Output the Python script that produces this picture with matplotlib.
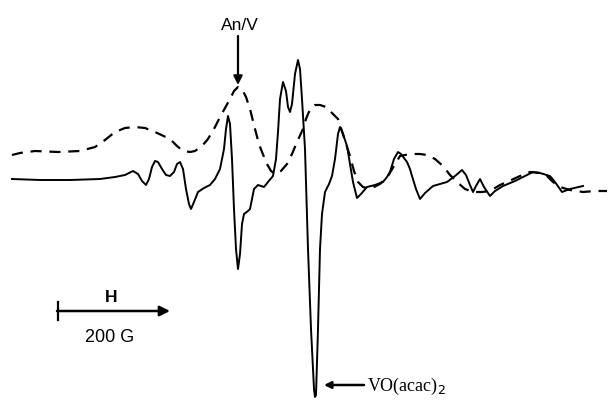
import matplotlib
matplotlib.use('Agg')
import matplotlib.pyplot as plt

# EPR spectra (field position, signal), image-pixel units
solid_x = [12, 40, 70, 100, 115, 125, 133, 138, 142, 146, 149, 152, 155, 158, 162,
           166, 170, 174, 177, 180, 183, 186, 189, 191, 194, 198, 204, 210, 215,
           220, 224, 226, 228, 230, 232, 234, 236, 238, 240, 242, 244, 248, 250,
           252, 254, 258, 264, 268, 273, 276, 278, 280, 283, 286, 288, 290, 292,
           295, 298, 300, 302, 305, 308, 311, 314, 315, 316, 318, 320, 322, 325,
           329, 332, 335, 338, 340, 343, 347, 350, 353, 357, 361, 367, 375, 383,
           387, 390, 394, 398, 401, 407, 410, 412, 416, 420, 425, 433, 440, 447,
           455, 462, 466, 470, 473, 476, 480, 484, 490, 495, 503, 515, 525, 533,
           540, 550, 555, 562, 570, 583]
solid_y = [180, 181, 181, 180, 178, 176, 172, 175, 182, 186, 180, 168, 162, 163, 170,
           176, 177, 173, 165, 163, 170, 190, 205, 210, 203, 193, 189, 186, 180,
           170, 150, 130, 117, 125, 160, 210, 250, 270, 255, 225, 215, 212, 210,
           200, 190, 186, 188, 183, 177, 160, 133, 100, 83, 92, 108, 113, 105,
           75, 61, 70, 100, 150, 250, 330, 390, 398, 396, 330, 250, 215, 193,
           185, 177, 160, 135, 128, 135, 147, 165, 183, 199, 195, 188, 186, 183,
           178, 173, 160, 153, 155, 163, 170, 177, 190, 200, 194, 187, 185, 183,
           177, 171, 176, 186, 193, 187, 180, 188, 197, 192, 187, 182, 177, 173,
           174, 177, 183, 193, 190, 187]

dashed_x = [12, 20, 35, 58, 80, 95, 105, 115, 125, 135, 145, 155, 170, 177, 183,
            190, 195, 202, 208, 215, 220, 225, 230, 234, 238, 242, 246, 250, 255,
            259, 262, 267, 271, 275, 281, 287, 292, 297, 303, 306, 308, 311, 315,
            320, 326, 332, 338, 342, 346, 350, 354, 358, 363, 370, 380, 388, 394,
            400, 410, 420, 427, 435, 443, 450, 457, 465, 473, 482, 490, 500, 507,
            520, 530, 540, 547, 553, 560, 570, 583, 595, 607]
dashed_y = [156, 154, 152, 153, 152, 148, 141, 133, 129, 128, 129, 133, 140, 147, 152,
            153, 152, 147, 140, 128, 118, 109, 100, 92, 88, 90, 98, 110, 130,
            145, 153, 165, 172, 175, 172, 165, 155, 143, 130, 120, 115, 109, 106,
            106, 108, 114, 120, 132, 145, 157, 172, 183, 188, 190, 185, 177, 167,
            157, 155, 155, 156, 160, 167, 176, 183, 190, 193, 193, 192, 186, 183,
            177, 173, 174, 177, 183, 188, 191, 193, 192, 192]

fig = plt.figure(figsize=(6.08, 4.02), dpi=100)
ax = fig.add_axes([0, 0, 1, 1])
ax.set_xlim(0, 608)
ax.set_ylim(402, 0)
ax.axis('off')

ax.plot(solid_x, solid_y, color='black', lw=1.4, solid_joinstyle='round')
ax.plot(dashed_x, dashed_y, color='black', lw=1.6, linestyle=(0, (5, 3.5)))

# labels
ax.text(240, 25, 'An/V', ha='center', va='center', fontsize=12.5, family='Liberation Sans')
ax.annotate('', xy=(238, 86), xytext=(238, 37),
            arrowprops=dict(arrowstyle='-|>', color='black', lw=1.6, mutation_scale=13,
                            shrinkA=0, shrinkB=0))

ax.annotate('', xy=(324, 386), xytext=(364, 386),
            arrowprops=dict(arrowstyle='-|>', color='black', lw=1.8, mutation_scale=10,
                            shrinkA=0, shrinkB=0))
ax.text(367, 386, r'VO(acac)$_2$', ha='left', va='center', fontsize=13,
        family='Liberation Serif')

# field scale bar
ax.annotate('', xy=(170, 312), xytext=(57, 312),
            arrowprops=dict(arrowstyle='-|>', color='black', lw=1.8, mutation_scale=15,
                            shrinkA=0, shrinkB=0))
ax.plot([57.5, 57.5], [303, 321], color='black', lw=1.6)
ax.text(111, 298, 'H', ha='center', va='center', fontsize=12.5, fontweight='bold',
        family='Liberation Sans')
ax.text(110, 338, '200 G', ha='center', va='center', fontsize=13, family='Liberation Sans')

fig.savefig('out.png', dpi=100)
